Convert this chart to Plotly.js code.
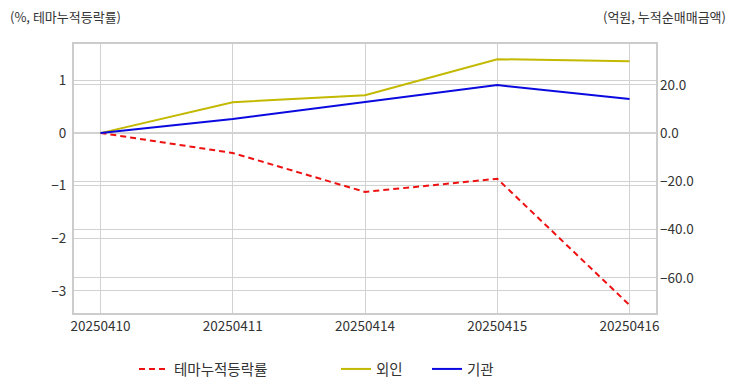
<!DOCTYPE html>
<html><head><meta charset="utf-8">
<script src="https://cdn.plot.ly/plotly-3.0.1.min.js"></script>
<style>html,body{margin:0;padding:0;background:#fff}#chart{width:732px;height:392px}</style>
</head><body><div id="chart"></div>
<script>
const dates = ['20250410','20250411','20250414','20250415','20250416'];
const themeReturn = [0, -0.38, -1.12, -0.87, -3.27];
const foreign = [0, 12.8, 15.7, 30.6, 29.8];
const institution = [0, 5.8, 12.9, 19.9, 14.1];
const names = ['테마누적등락률', '외인', '기관'];
const leftTitle = '(%, 테마누적등락률)';
const rightTitle = '(억원, 누적순매매금액)';

const FONT = 'Noto Sans CJK KR, Noto Sans, sans-serif';
const grid = '#d2d2d2';
const PW = 582, PH = 269, W = 732, H = 392;
const traces = [
  {x: dates, y: themeReturn, name: names[0], type: 'scatter', mode: 'lines', yaxis: 'y',
   line: {color: '#ee1111', width: 2, dash: '6px,4px'}, legend: 'legend'},
  {x: dates, y: foreign, name: names[1], type: 'scatter', mode: 'lines', yaxis: 'y2',
   line: {color: '#c2b900', width: 2}, legend: 'legend2'},
  {x: dates, y: institution, name: names[2], type: 'scatter', mode: 'lines', yaxis: 'y2',
   line: {color: '#0a0ae0', width: 2}, legend: 'legend2'}
];
const layout = {
  width: W, height: H,
  margin: {l: 74, r: 76, t: 44, b: 79, autoexpand: false},
  paper_bgcolor: '#fff', plot_bgcolor: '#fff',
  font: {family: FONT, size: 12, color: '#333'},
  showlegend: true,
  xaxis: {type: 'category', range: [-0.2, 4.2], showgrid: true, gridcolor: grid, gridwidth: 1,
    showline: true, linecolor: '#cccccc', linewidth: 2, mirror: true, ticks: '', zeroline: false,
    tickfont: {size: 13.5, color: '#333'}, fixedrange: true},
  yaxis: {range: [-3.42, 1.69], dtick: 1, tick0: 0, tickformat: 'd', showgrid: true, gridcolor: grid,
    zeroline: true, zerolinecolor: grid, zerolinewidth: 1, showline: true, linecolor: '#cccccc', linewidth: 2,
    mirror: true, ticks: '', tickfont: {size: 13.5, color: '#333'}, ticklabelstandoff: 3},
  yaxis2: {overlaying: 'y', side: 'right', range: [-74.5, 36.9], dtick: 20, tick0: 0, tickformat: '.1f',
    showgrid: true, gridcolor: grid, zeroline: false, showline: false, ticks: '',
    tickfont: {size: 13.5, color: '#333'}, ticklabelstandoff: 3},
  legend: {orientation: 'h', xref: 'container', yref: 'container', x: 134 / W, xanchor: 'left',
    y: (H - 369) / H, yanchor: 'middle', font: {size: 14.5, color: '#333'}, bgcolor: 'rgba(0,0,0,0)'},
  legend2: {orientation: 'h', xref: 'container', yref: 'container', x: 336 / W, xanchor: 'left',
    y: (H - 369) / H, yanchor: 'middle', font: {size: 14.5, color: '#333'}, bgcolor: 'rgba(0,0,0,0)', entrywidth: 46},
  annotations: [
    {text: leftTitle, xref: 'paper', yref: 'paper', x: -66 / PW, y: 1, yshift: 28, xanchor: 'left', yanchor: 'middle',
     showarrow: false, font: {size: 13, color: '#333'}},
    {text: rightTitle, xref: 'paper', yref: 'paper', x: 1 + 72 / PW, y: 1, yshift: 28, xanchor: 'right', yanchor: 'middle',
     showarrow: false, font: {size: 13, color: '#333'}}
  ]
};
Plotly.newPlot('chart', traces, layout, {staticPlot: true, displayModeBar: false});
</script></body></html>
